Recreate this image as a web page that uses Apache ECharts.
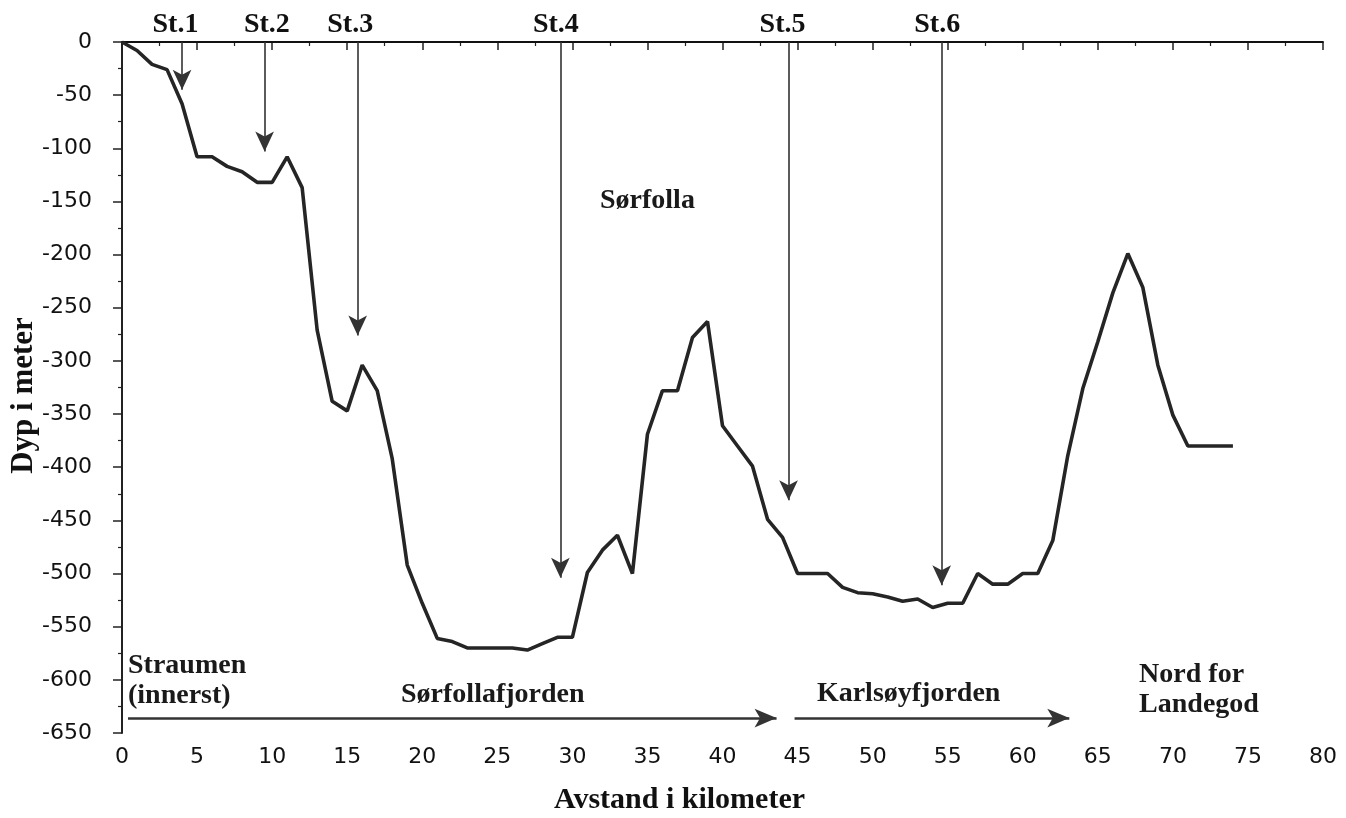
<!DOCTYPE html>
<html><head><meta charset="utf-8">
<script src="https://cdn.jsdelivr.net/npm/echarts@6/dist/echarts.min.js"></script>
<style>html,body{margin:0;padding:0;background:#fff}#c{width:1346px;height:818px}</style>
</head><body><div id="c"></div>
<script>
// Depth profile (km, metres)
const distanceKm = [0,1,2,3,4,5,6,7,8,9,10,11,12,13,14,15,16,17,18,19,20,21,22,23,24,25,26,27,28,29,30,31,32,33,34,35,36,37,38,39,40,41,42,43,44,45,46,47,48,49,50,51,52,53,54,55,56,57,58,59,60,61,62,63,64,65,66,67,68,69,70,71,72,73,74];
const depthM = [0,-8,-21,-26,-58,-108,-108,-117,-122,-132,-132,-108,-137,-271,-338,-347,-304,-328,-392,-492,-528,-561,-564,-570,-570,-570,-570,-572,-566,-560,-560,-499,-478,-464,-500,-369,-328,-328,-278,-263,-361,-380,-399,-449,-466,-500,-500,-500,-513,-518,-519,-522,-526,-524,-532,-528,-528,-500,-510,-510,-500,-500,-469,-389,-326,-282,-236,-199,-231,-304,-351,-380,-380,-380,-380];

// Station arrows
const stationNames = ['St.1','St.2','St.3','St.4','St.5','St.6'];
const stationKm = [4.0, 9.5, 15.7, 29.2, 44.4, 54.6];
const stationLabelKm = [3.56, 9.65, 15.2, 28.9, 44.0, 54.3];
const stationTip = [-45, -103, -276, -504, -431, -511];

// Region labels
const regionNames = ['Sørfolla','Straumen\n(innerst)','Sørfollafjorden','Karlsøyfjorden','Nord for\nLandegod'];
const regionKm = [35, 0.4, 24.7, 52.4, 67.75];
const regionDepth = [-149, -601, -614, -613, -609];
const regionAlign = ['center','left','center','center','left'];

// Bottom fjord arrows [fromKm, toKm, depth]
const fjordArrows = [[0.4, 43.6, -636],[44.8, 63.1, -636]];

const xTicks = [0,80,5];
const yTicks = [-650,0,50];

const serif = '"Liberation Serif","Times New Roman",serif';
const sans = '"DejaVu Sans",Verdana,sans-serif';
const chart = echarts.init(document.getElementById('c'));
chart.setOption({
  animation:false,
  backgroundColor:'#fff',
  grid:{left:122,right:23,top:42,bottom:85,containLabel:false,outerBoundsMode:'none'},
  xAxis:{type:'value',min:xTicks[0],max:xTicks[1],interval:xTicks[2],
    name:'Avstand i kilometer',nameLocation:'middle',nameGap:52,nameMoveOverlap:false,
    nameTextStyle:{fontFamily:serif,fontWeight:'bold',fontSize:30,color:'#111',padding:[0,86,0,0]},
    axisLine:{lineStyle:{color:'#222',width:2}},
    axisTick:{show:true,length:8,lineStyle:{color:'#222',width:1.5}},
    minorTick:{show:true,splitNumber:2,length:4,lineStyle:{color:'#222',width:1.2}},
    axisLabel:{fontFamily:sans,fontSize:22,color:'#111',margin:13},
    splitLine:{show:false}},
  yAxis:{type:'value',min:yTicks[0],max:yTicks[1],interval:yTicks[2],
    name:'Dyp i meter',nameLocation:'middle',nameGap:83,nameRotate:90,nameMoveOverlap:false,
    nameTextStyle:{fontFamily:serif,fontWeight:'bold',fontSize:31,color:'#111',padding:[0,16,0,0]},
    axisLine:{show:true,lineStyle:{color:'#222',width:2}},
    axisTick:{show:true,length:9,lineStyle:{color:'#222',width:1.5}},
    minorTick:{show:true,splitNumber:2,length:4,lineStyle:{color:'#222',width:1.2}},
    axisLabel:{fontFamily:sans,fontSize:22,color:'#111',margin:30},
    splitLine:{show:false}},
  series:[
    {type:'line',data:distanceKm.map((x,i)=>[x,depthM[i]]),symbol:'none',
      lineStyle:{color:'#252525',width:3.6},z:5,
      markLine:{silent:true,symbol:['none','none'],animation:false,
        lineStyle:{color:'#111',width:2,type:'solid'},label:{show:false},
        data:[[{coord:[0,0]},{coord:[80,0]}]]}},
    {type:'line',data:[],markLine:{silent:true,animation:false,
      symbol:['none','arrow'],symbolSize:[14,20],
      lineStyle:{color:'#333',width:1.6,type:'solid'},label:{show:false},
      data:stationNames.map((n,i)=>[{coord:[stationKm[i],0]},{coord:[stationKm[i],stationTip[i]]}])}},
    {type:'line',data:[],markLine:{silent:true,animation:false,
      symbol:['none','arrow'],symbolSize:[14,22],
      lineStyle:{color:'#333',width:2.6,type:'solid'},label:{show:false},
      data:fjordArrows.map(a=>[{coord:[a[0],a[2]]},{coord:[a[1],a[2]]}])}},
    {type:'scatter',clip:false,symbolSize:1,silent:true,
      itemStyle:{opacity:1,color:'rgba(0,0,0,0)'},
      data:stationNames.map((n,i)=>({name:n,value:[stationLabelKm[i],0]})),
      label:{show:true,position:'top',distance:3,formatter:'{b}',
        fontFamily:serif,fontWeight:'bold',fontSize:28,color:'#111'}},
    {type:'scatter',clip:false,symbolSize:1,silent:true,
      itemStyle:{opacity:1,color:'rgba(0,0,0,0)'},
      data:regionNames.map((n,i)=>({name:n,value:[regionKm[i],regionDepth[i]],
        label:{align:regionAlign[i]}})),
      label:{show:true,position:'inside',formatter:'{b}',
        fontFamily:serif,fontWeight:'bold',fontSize:28,lineHeight:30,color:'#1a1a1a'}}
  ]
});
</script></body></html>
